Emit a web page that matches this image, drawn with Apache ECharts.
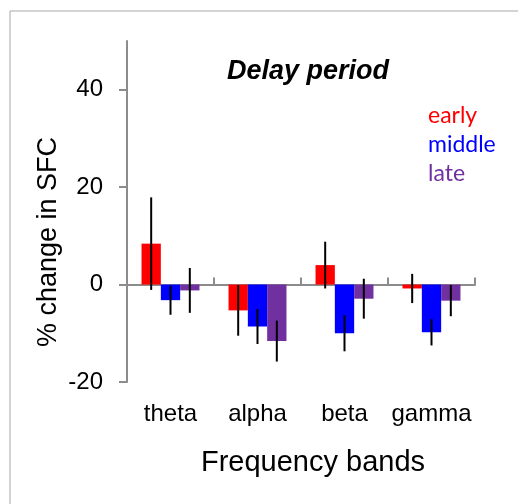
<!DOCTYPE html>
<html>
<head>
<meta charset="utf-8">
<script src="https://cdn.jsdelivr.net/npm/echarts@6/dist/echarts.min.js"></script>
<style>html,body{margin:0;padding:0;background:#fff;}#chart{width:518px;height:504px;}</style>
</head>
<body>
<div id="chart"></div>
<script>
var categories = ['theta', 'alpha', 'beta', 'gamma'];
var seriesNames = ['early', 'middle', 'late'];
var early = [8.4, -5.3, 4.0, -0.8];
var middle = [-3.2, -8.6, -10.0, -9.8];
var late = [-1.2, -11.6, -2.9, -3.3];
var earlyErr = [9.5, 5.2, 4.8, 3.0];
var middleErr = [3.0, 3.6, 3.7, 2.7];
var lateErr = [4.6, 4.2, 4.1, 3.2];
var yTicks = [-20, 0, 20, 40];
var colors = ['#FF0000', '#0000FF', '#7030A0'];

var values = [early, middle, late];
var errs = [earlyErr, middleErr, lateErr];
var BAR_FRAC = 0.222;
var axisGray = '#8c8c8c';

var series = [];
values.forEach(function (vals, i) {
  series.push({
    name: seriesNames[i],
    type: 'bar',
    xAxisIndex: 0,
    data: vals,
    barWidth: (BAR_FRAC * 100) + '%',
    barGap: '0%',
    itemStyle: { color: colors[i] },
    z: 2
  });
});
values.forEach(function (vals, i) {
  series.push({
    type: 'custom',
    xAxisIndex: 0,
    z: 5,
    silent: true,
    data: vals.map(function (v, k) { return [k, v, errs[i][k]]; }),
    renderItem: (function (idx) {
      return function (params, api) {
        var ci = api.value(0), m = api.value(1), e = api.value(2);
        var bw = api.size([1, 0])[0];
        var off = (idx - 1) * bw * BAR_FRAC;
        var p1 = api.coord([ci, m + e]);
        var p2 = api.coord([ci, m - e]);
        return {
          type: 'line',
          shape: { x1: p1[0] + off, y1: p1[1], x2: p2[0] + off, y2: p2[1] },
          style: { stroke: '#000', lineWidth: 2 }
        };
      };
    })(i)
  });
});

var chart = echarts.init(document.getElementById('chart'), null, { renderer: 'canvas' });
chart.setOption({
  animation: false,
  backgroundColor: '#fff',
  title: {
    text: 'Delay period',
    left: 303,
    top: 53,
    textAlign: 'center',
    textStyle: { fontFamily: 'Liberation Sans', fontSize: 27, fontWeight: 'bold', fontStyle: 'italic', color: '#000' }
  },
  legend: {
    orient: 'vertical',
    left: 418,
    top: 99,
    icon: 'none',
    itemWidth: 0,
    itemHeight: 14,
    itemGap: 6,
    selectedMode: false,
    textStyle: { fontFamily: 'Lato', fontSize: 23, lineHeight: 22 },
    data: seriesNames.map(function (n, i) { return { name: n, textStyle: { color: colors[i] } }; })
  },
  grid: { left: 127, right: 43, top: 41, bottom: 122, containLabel: false },
  xAxis: [
    {
      type: 'category',
      data: categories,
      axisLine: { show: true, onZero: true, lineStyle: { color: axisGray, width: 2 } },
      axisTick: { show: true, inside: true, length: 7, interval: 0, lineStyle: { color: axisGray, width: 2 } },
      axisLabel: { show: false },
      splitLine: { show: false }
    },
    {
      type: 'category',
      data: categories,
      position: 'bottom',
      axisLine: { show: false, onZero: false },
      axisTick: { show: false },
      axisLabel: { show: true, interval: 0, margin: 20, fontFamily: 'Liberation Sans', fontSize: 24, color: '#000' },
      splitLine: { show: false },
      name: 'Frequency bands',
      nameLocation: 'middle',
      nameGap: 66,
      nameTextStyle: { fontFamily: 'Liberation Sans', fontSize: 29, color: '#000', padding: [0, 0, 0, 24] }
    }
  ],
  yAxis: {
    type: 'value',
    min: -20,
    max: 50,
    axisLine: { show: true, onZero: false, lineStyle: { color: axisGray, width: 2 } },
    axisTick: { show: true, inside: false, length: 8, customValues: yTicks, lineStyle: { color: axisGray, width: 2 } },
    axisLabel: { show: true, customValues: yTicks, margin: 24, fontFamily: 'Liberation Sans', fontSize: 24, color: '#000' },
    splitLine: { show: false }
  },
  graphic: [
    { type: 'line', shape: { x1: 10, y1: 11, x2: 518, y2: 11 }, style: { stroke: '#c4c4c4', lineWidth: 1.5 }, silent: true },
    { type: 'line', shape: { x1: 10, y1: 11, x2: 10, y2: 504 }, style: { stroke: '#c4c4c4', lineWidth: 1.5 }, silent: true },
    {
      type: 'text',
      x: 49, y: 242,
      rotation: Math.PI / 2,
      style: { text: '% change in SFC', fontFamily: 'Liberation Sans', fontSize: 27, fill: '#000', align: 'center', verticalAlign: 'middle' },
      silent: true
    }
  ],
  series: series
});
</script>
</body>
</html>
